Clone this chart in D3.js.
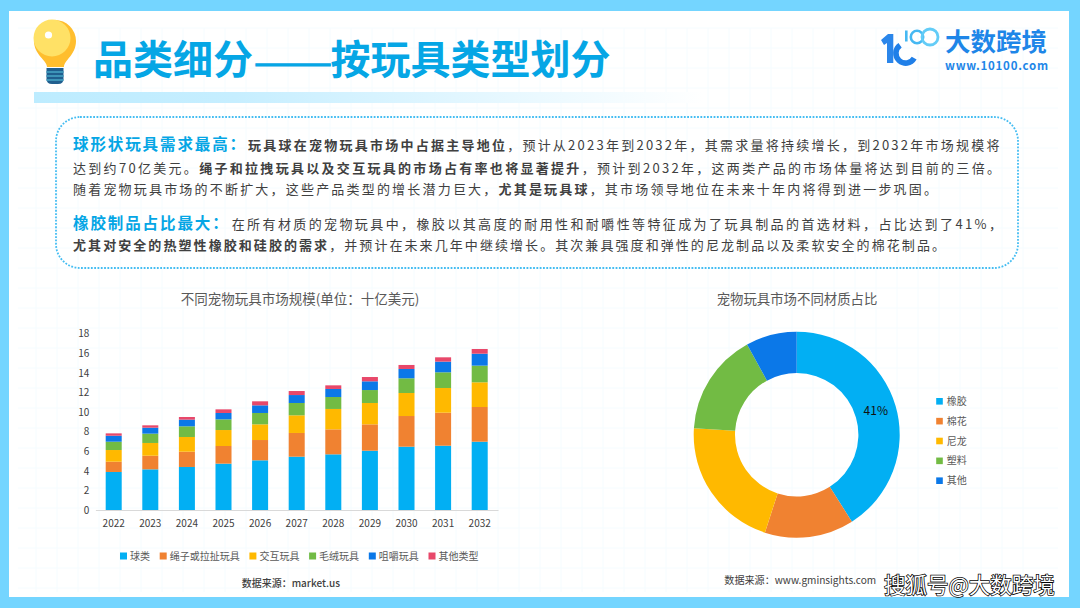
<!DOCTYPE html>
<html lang="zh"><head><meta charset="utf-8">
<script src="https://cdn.jsdelivr.net/npm/d3@7"></script>
<style>
html,body{margin:0;padding:0;background:#74D5FF}
svg{display:block}
text{font-family:"Noto Sans CJK SC","Noto Sans",sans-serif}
</style></head><body>
<svg id="c" width="1080" height="608"></svg>
<script>
// ---- data ----
const years=["2022","2023","2024","2025","2026","2027","2028","2029","2030","2031","2032"];
const balls=[3.88,4.15,4.39,4.73,5.07,5.44,5.68,6.05,6.46,6.56,6.97];
const ropes=[1.05,1.39,1.56,1.80,2.07,2.42,2.55,2.69,3.13,3.37,3.54];
const interactive=[1.19,1.30,1.50,1.63,1.60,1.80,2.08,2.18,2.35,2.52,2.52];
const plush=[0.85,0.95,1.09,1.09,1.16,1.26,1.22,1.32,1.50,1.60,1.70];
const chew=[0.61,0.61,0.68,0.65,0.78,0.81,0.82,0.89,0.95,1.09,1.22];
const others=[0.24,0.24,0.27,0.37,0.41,0.41,0.37,0.44,0.41,0.44,0.48];
const barSeriesNames=["球类","绳子或拉扯玩具","交互玩具","毛绒玩具","咀嚼玩具","其他类型"];
const yTicks=[0,2,4,6,8,10,12,14,16,18];
const materials=["橡胶","棉花","尼龙","塑料","其他"];
const materialShares=[41,14,21,16,8];
const titleParts=["品类细分","——","按玩具类型划分"];
const barTitle="不同宠物玩具市场规模(单位：十亿美元)";
const pieTitle="宠物玩具市场不同材质占比";
const barSource="数据来源：market.us";
const pieSource="数据来源：www.gminsights.com";
const watermark="搜狐号@大数跨境";
const head1="球形状玩具需求最高：";
const head2="橡胶制品占比最大：";
const line1=[["b","玩具球在宠物玩具市场中占据主导地位"],["n","，预计从2023年到2032年，其需求量将持续增长，到2032年市场规模将"]];
const line2=[["n","达到约70亿美元。"],["b","绳子和拉拽玩具以及交互玩具的市场占有率也将显著提升"],["n","，预计到2032年，这两类产品的市场体量将达到目前的三倍。"]];
const line3=[["n","随着宠物玩具市场的不断扩大，这些产品类型的增长潜力巨大，"],["b","尤其是玩具球"],["n","，其市场领导地位在未来十年内将得到进一步巩固。"]];
const line4=[["n","在所有材质的宠物玩具中，橡胶以其高度的耐用性和耐嚼性等特征成为了玩具制品的首选材料，占比达到了41%，"]];
const line5=[["b","尤其对安全的热塑性橡胶和硅胶的需求"],["n","，并预计在未来几年中继续增长。其次兼具强度和弹性的尼龙制品以及柔软安全的棉花制品。"]];

// ---- style ----
const C={bg:"#74D5FF",blue:"#02AFF3",orange:"#F08231",yellow:"#FFB900",green:"#72BB44",dblue:"#0B78E8",red:"#E8486A",head:"#05A6E5",txt:"#404040",sub:"#595959"};
const svg=d3.select("#c");
const defs=svg.append("defs");
const g1=defs.append("linearGradient").attr("id","strip");
g1.append("stop").attr("offset",0).attr("stop-color","#BDECFF");
g1.append("stop").attr("offset",.3).attr("stop-color","#C6EEFF");
g1.append("stop").attr("offset",1).attr("stop-color","#ffffff");
const g2=defs.append("linearGradient").attr("id","arc").attr("gradientUnits","userSpaceOnUse").attr("x1",892).attr("y1",40).attr("x2",918).attr("y2",66);
g2.append("stop").attr("offset",0).attr("stop-color","#1F7FE8");
g2.append("stop").attr("offset",1).attr("stop-color","#3FA4F5");

// panel + faint grid
svg.append("rect").attr("width",1080).attr("height",608).attr("fill",C.bg);
svg.append("rect").attr("x",9).attr("y",11).attr("width",1060).attr("height",586).attr("fill","#fff");
const grid=svg.append("g").attr("stroke","#F5FCFF").attr("stroke-width",1);
d3.range(48).forEach(i=>{const x=36+i*21;if(x<1060)grid.append("line").attr("x1",x).attr("x2",x).attr("y1",28).attr("y2",592)});
d3.range(29).forEach(i=>{const y=28+i*20;grid.append("line").attr("x1",18).attr("x2",1058).attr("y1",y).attr("y2",y)});

// bulb
const b=svg.append("g");
b.append("path").attr("d","M47,67 C47,60 34,55 34,41 A21,21 0 1 1 76,41 C76,55 64,60 64,67 Z").attr("fill","#FFBE2E");
b.append("circle").attr("cx",52).attr("cy",38).attr("r",18.5).attr("fill","#FFE166");
b.append("circle").attr("cx",48.5).attr("cy",35).attr("r",3.6).attr("fill","#fff");
b.append("path").attr("d","M46.5,68 H63.5 V79 Q63.5,84 58,84 H52 Q46.5,84 46.5,79 Z").attr("fill","#1F5F8F");
[71,75,79].forEach(y=>b.append("rect").attr("x",46.5).attr("y",y).attr("width",17).attr("height",2).attr("fill","#3C94B8"));

// title + strip
const tt=svg.append("text").attr("x",93).attr("y",73.5).attr("font-size",40).attr("font-weight",700).attr("fill",C.head);
tt.append("tspan").text(titleParts[0]);
tt.append("tspan").attr("dy",6).attr("stroke",C.head).attr("stroke-width",1.5).text(titleParts[1]);
tt.append("tspan").attr("dy",-6).attr("dx",-2.5).text(titleParts[2]);
svg.append("rect").attr("x",34).attr("y",92).attr("width",670).attr("height",11).attr("fill","url(#strip)");

// logo
const lg=svg.append("g");
lg.append("path").attr("d","M881,40 L888,34 H893.3 V63 H887 V43 L884,45 Z").attr("fill","#2B86EA");
lg.append("path").attr("transform","translate(905.7,53.3)").attr("fill","url(#arc)")
  .attr("d",d3.arc().innerRadius(7).outerRadius(12.6).startAngle(-240*Math.PI/180).endAngle(-35*Math.PI/180)());
lg.append("rect").attr("x",905).attr("y",30.5).attr("width",2.6).attr("height",11).attr("fill","#45B8F2");
lg.append("circle").attr("cx",917).attr("cy",37).attr("r",6.2).attr("fill","none").attr("stroke","#45B8F2").attr("stroke-width",2.6);
lg.append("circle").attr("cx",930).attr("cy",37).attr("r",8).attr("fill","none").attr("stroke","#62CCF7").attr("stroke-width",2.8);
svg.append("text").attr("x",945).attr("y",50.5).attr("font-size",25.5).attr("font-weight",700).attr("fill","#1E86E8").text("大数跨境");
svg.append("text").attr("x",945).attr("y",69.6).attr("font-size",11.5).attr("font-weight",700).attr("font-family","'Open Sans'").attr("fill","#1E86E8").attr("textLength",103).text("www.10100.com");

// text box
svg.append("rect").attr("x",56).attr("y",117).attr("width",962).attr("height",151).attr("rx",24).attr("fill","none")
  .attr("stroke","#45BDF2").attr("stroke-width",1.8).attr("stroke-dasharray","1.8 1.5");
function heading(txt,y){
  svg.append("text").attr("x",73).attr("y",y).attr("font-size",15.5).attr("font-weight",700).attr("fill",C.head).style("letter-spacing","1.9px").text(txt);
}
function para(segs,y,start,end){
  const t=svg.append("text").attr("x",start).attr("y",y);
  let n=0;
  segs.forEach(s=>{
    const ts=t.append("tspan").text(s[1]);
    n+=s[1].length;
    ts.attr("font-size",13).attr("font-weight",s[0]==="b"?700:400).attr("fill",C.txt);
  });
  const w=t.node().getComputedTextLength();
  t.style("letter-spacing",((end-start-w)/(n-1))+"px");
}
heading(head1,150);
para(line1,150,248,999.5);
para(line2,173,73,1000);
para(line3,194,73,937);
heading(head2,229);
para(line4,229,231.7,1002);
para(line5,250,73,945);

// ---- stacked bars ----
const x=d3.scaleBand().domain(years).range([95.4,498]).paddingInner(.5625).paddingOuter(.28125);
const y=d3.scaleLinear().domain([0,18]).range([510,333.6]);
const keys=["balls","ropes","interactive","plush","chew","others"];
const rows=years.map((yr,i)=>({yr,balls:balls[i],ropes:ropes[i],interactive:interactive[i],plush:plush[i],chew:chew[i],others:others[i]}));
const barColors=[C.blue,C.orange,C.yellow,C.green,C.dblue,C.red];
const st=d3.stack().keys(keys)(rows);
svg.append("g").selectAll("g").data(st).join("g").attr("fill",(d,i)=>barColors[i])
  .selectAll("rect").data(d=>d).join("rect")
  .attr("x",d=>x(d.data.yr)).attr("width",x.bandwidth())
  .attr("y",d=>y(d[1])).attr("height",d=>y(d[0])-y(d[1]));
const ax=svg.append("g").attr("transform","translate(0,510)").call(d3.axisBottom(x).tickSize(0).tickPadding(9.5));
ax.select(".domain").attr("stroke","#D9D9D9");
const ay=svg.append("g").attr("transform","translate(95.4,0)").call(d3.axisLeft(y).tickValues(yTicks).tickSize(0).tickPadding(6));
ay.select(".domain").remove();
svg.selectAll(".tick text").attr("font-size",10).attr("fill",C.txt).style("font-family",'"Noto Sans CJK SC"');
svg.append("text").attr("x",300).attr("y",304).attr("text-anchor","middle").attr("font-size",13.5).attr("fill",C.sub).text(barTitle);
let lx=120;
barSeriesNames.forEach((n,i)=>{
  svg.append("rect").attr("x",lx).attr("y",552.5).attr("width",7).attr("height",7).attr("fill",barColors[i]);
  svg.append("text").attr("x",lx+10).attr("y",559.8).attr("font-size",10).attr("fill",C.sub).text(n);
  lx+=10+n.length*10+9.7;
});
svg.append("text").attr("x",241.7).attr("y",586.5).attr("font-size",10).attr("font-weight",500).attr("fill",C.txt).text(barSource);

// ---- donut ----
const pieColors=[C.blue,C.orange,C.yellow,C.green,C.dblue];
const arcs=d3.pie().sort(null)(materialShares);
const arc=d3.arc().innerRadius(61.7).outerRadius(103);
const pg=svg.append("g").attr("transform","translate(796.7,434.7)");
pg.selectAll("path").data(arcs).join("path").attr("d",arc).attr("fill",(d,i)=>pieColors[i]);
const c0=arc.centroid(arcs[0]);
pg.append("text").attr("x",c0[0]).attr("y",c0[1]).attr("dy",3).attr("text-anchor","middle").attr("font-size",12).attr("fill","#111").text(materialShares[0]+"%");
svg.append("text").attr("x",797).attr("y",304).attr("text-anchor","middle").attr("font-size",13.4).attr("fill",C.sub).text(pieTitle);
materials.forEach((n,i)=>{
  const cy=401.3+i*19.85;
  svg.append("rect").attr("x",936.2).attr("y",cy-3.3).attr("width",6.6).attr("height",6.6).attr("fill",pieColors[i]);
  svg.append("text").attr("x",946.7).attr("y",cy+3.6).attr("font-size",10).attr("fill",C.sub).text(n);
});
svg.append("text").attr("x",724.3).attr("y",583.5).attr("font-size",10.1).attr("fill",C.txt).text(pieSource);
svg.append("text").attr("x",884).attr("y",592.5).attr("font-size",21.5).attr("font-weight",400).attr("fill","#fff")
  .attr("stroke","#000").attr("stroke-width",1.5).attr("paint-order","stroke").text(watermark);
</script></body></html>
